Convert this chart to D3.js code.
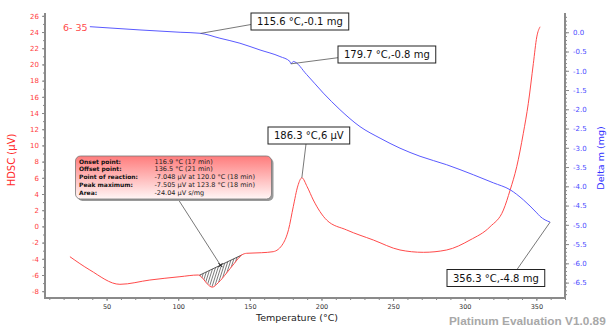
<!DOCTYPE html>
<html><head><meta charset="utf-8">
<script src="https://cdn.jsdelivr.net/npm/d3@7"></script>
<style>
body{margin:0;background:#fff}
svg{display:block}
text{font-family:"DejaVu Sans",sans-serif}
</style>
</head><body>
<svg width="610" height="327"></svg>
<script>
// DSC signal, left axis (µV)
const dscTemp = [24.4, 38.3, 59.3, 80.2, 101.2, 114.0, 118.0, 120.0, 123.8, 128.0, 133.8, 139.0, 144.3, 147.8, 158.0, 166.3, 173.3, 177.0, 180.3, 183.5, 186.3, 190.0, 194.3, 203.6, 217.6, 236.2, 254.8, 271.1, 287.4, 303.7, 317.7, 327.0, 331.7, 336.3, 340.9, 344.4, 347.9, 350.3, 352.6];
const dscVal  = [-3.74, -5.38, -7.15, -6.62, -6.21, -6.0, -6.6, -7.05, -7.5, -6.95, -5.75, -4.6, -3.53, -3.32, -3.25, -3.12, -2.09, -0.4, 2.43, 5.0, 6.0, 4.9, 3.26, 0.79, -0.44, -1.68, -2.91, -3.2, -2.91, -1.68, -0.04, 2.02, 4.49, 7.37, 11.5, 15.2, 20.1, 23.4, 24.65];

// mass change, right axis (mg)
const tgTemp = [38.3, 73.3, 101.3, 115.2, 129.1, 143.1, 157.1, 171.0, 178.0, 178.7, 180.3, 189.7, 201.3, 212.9, 226.9, 240.9, 254.8, 268.8, 287.4, 306.0, 320.0, 331.7, 340.9, 350.3, 352.6, 359.6];
const tgVal  = [0.145, 0.06, 0.0, -0.026, -0.155, -0.285, -0.46, -0.63, -0.76, -0.82, -0.76, -1.1, -1.58, -2.01, -2.45, -2.75, -3.01, -3.22, -3.44, -3.7, -3.91, -4.09, -4.35, -4.69, -4.78, -4.93];

// ticks
const xTicks = [50, 100, 150, 200, 250, 300, 350];
const dscTicks = [-8, -6, -4, -2, 0, 2, 4, 6, 8, 10, 12, 14, 16, 18, 20, 22, 24, 26];
const tgTicks = [0.0, -0.5, -1.0, -1.5, -2.0, -2.5, -3.0, -3.5, -4.0, -4.5, -5.0, -5.5, -6.0, -6.5];

// peak evaluation (baseline ends + text)
const baseTemp = [114.6, 144.3];
const baseVal = [-6.05, -3.53];
const reactionTemp = 129.5;
const peakLabels = ["Onset point:", "Offset point:", "Point of reaction:", "Peak maximum:", "Area:"];
const peakValues = ["116.9 °C (17 min)", "136.5 °C (21 min)", "-7.048 µV at 120.0 °C (18 min)", "-7.505 µV at 123.8 °C (18 min)", "-24.04 µV s/mg"];

// point labels
const markText = ["115.6 °C,-0.1 mg", "179.7 °C,-0.8 mg", "186.3 °C,6 µV", "356.3 °C,-4.8 mg"];
const markTemp = [115.6, 178.7, 186.3, 359.6];
const markSeries = ["tg", "tg", "dsc", "tg"];

const svg = d3.select("svg");
const L = 45, R = 565, T = 13, B = 298;

const x = d3.scaleLinear().domain([7, 370]).range([L, R]);
const yL = d3.scaleLinear().domain([-8.84, 26.35]).range([B, T]);
const yR = d3.scaleLinear().domain([-6.9, 0.5]).range([B, T]);

function interp(xs, ys, t) {
  const i = Math.max(1, Math.min(xs.length - 1, d3.bisectLeft(xs, t)));
  const f = (t - xs[i - 1]) / (xs[i] - xs[i - 1]);
  return ys[i - 1] + f * (ys[i] - ys[i - 1]);
}

// axes
const gx = svg.append("g").attr("transform", `translate(0,${B})`);
gx.call(d3.axisBottom(x).tickValues(d3.range(10, 371, 10)).tickSize(2).tickFormat(""));
gx.append("g").call(d3.axisBottom(x).tickValues(xTicks).tickSize(3).tickPadding(3).tickFormat(d => d));
gx.selectAll("text").attr("fill", "#333").attr("font-size", 6.5);

const gl = svg.append("g").attr("transform", `translate(${L},0)`);
gl.call(d3.axisLeft(yL).tickValues(d3.range(-8, 27, 1)).tickSize(2).tickFormat(""));
gl.append("g").call(d3.axisLeft(yL).tickValues(dscTicks).tickSize(3).tickPadding(3).tickFormat(d => String(d)));
gl.selectAll("text").attr("fill", "#ff3c3c").attr("font-size", 7);

const gr = svg.append("g").attr("transform", `translate(${R},0)`);
gr.call(d3.axisRight(yR).tickValues(d3.range(-68, 5, 1).map(d => d / 10)).tickSize(2).tickFormat(""));
gr.append("g").call(d3.axisRight(yR).tickValues(tgTicks).tickSize(4).tickPadding(4).tickFormat(d => d.toFixed(1)));
gr.selectAll("text").attr("fill", "#4a4aff").attr("font-size", 7);

svg.selectAll(".domain").remove();
svg.selectAll(".tick line").attr("stroke", "#888");
svg.append("path").attr("d", `M${L},${T}V${B}H${R}V${T}`).attr("fill", "none").attr("stroke", "#8a8a8a").attr("stroke-width", 2);

// axis titles
svg.append("text").attr("transform", `translate(15,160) rotate(-90)`).attr("text-anchor", "middle")
  .attr("fill", "#ff2a2a").attr("font-size", 10).text("HDSC (µV)");
svg.append("text").attr("transform", `translate(604,158) rotate(-90)`).attr("text-anchor", "middle")
  .attr("fill", "#3030ff").attr("font-size", 9.5).text("Delta m (mg)");
svg.append("text").attr("x", 297).attr("y", 321).attr("text-anchor", "middle")
  .attr("fill", "#222").attr("font-size", 9.5).text("Temperature (°C)");
svg.append("text").attr("x", 449).attr("y", 325).attr("fill", "#a8a8a8")
  .style("font-family", "'Liberation Sans', Arial, sans-serif").attr("font-weight", "bold").attr("font-size", 11.8)
  .text("Platinum Evaluation V1.0.89");

// hatched peak area
const clipPts = d3.range(baseTemp[0], baseTemp[1] + 0.01, 0.5).map(t => [x(t), yL(interp(dscTemp, dscVal, t))]);
clipPts.push([x(baseTemp[1]), yL(baseVal[1])], [x(baseTemp[0]), yL(baseVal[0])]);
svg.append("clipPath").attr("id", "peak").append("path").attr("d", "M" + clipPts.join("L") + "Z");
const hatch = svg.append("g").attr("clip-path", "url(#peak)");
d3.range(x(baseTemp[0]) - 20, x(baseTemp[1]) + 5, 2.6).forEach(px => {
  hatch.append("line").attr("x1", px).attr("y1", 292).attr("x2", px + 14).attr("y2", 248)
    .attr("stroke", "#222").attr("stroke-width", 0.6);
});
svg.append("line").attr("x1", x(baseTemp[0])).attr("y1", yL(baseVal[0]))
  .attr("x2", x(baseTemp[1])).attr("y2", yL(baseVal[1])).attr("stroke", "#333").attr("stroke-width", 0.8);

// curves
const dscLine = d3.line().x(d => x(d[0])).y(d => yL(d[1])).curve(d3.curveMonotoneX);
const tgLine = d3.line().x(d => x(d[0])).y(d => yR(d[1])).curve(d3.curveMonotoneX);
svg.append("path").attr("d", dscLine(d3.zip(dscTemp, dscVal))).attr("fill", "none").attr("stroke", "#ff4a4a").attr("stroke-width", 1);
svg.append("path").attr("d", tgLine(d3.zip(tgTemp, tgVal))).attr("fill", "none").attr("stroke", "#5a5aff").attr("stroke-width", 1);

svg.append("text").attr("x", 63).attr("y", 31).attr("fill", "#ff4a4a").attr("font-size", 9.5).text("6- 35");

// reaction point marker + peak evaluation box
const rx = x(reactionTemp), ry = yL(interp(baseTemp, baseVal, reactionTemp));
svg.append("line").attr("x1", 178).attr("y1", 199).attr("x2", rx).attr("y2", ry).attr("stroke", "#555").attr("stroke-width", 0.8);
svg.append("path").attr("d", `M${rx - 2},${ry - 2}L${rx + 2},${ry + 2}M${rx - 2},${ry + 2}L${rx + 2},${ry - 2}`).attr("stroke", "#111");

const grad = svg.append("defs").append("linearGradient").attr("id", "boxfill").attr("x1", 0).attr("y1", 0).attr("x2", 0).attr("y2", 1);
grad.append("stop").attr("offset", "0%").attr("stop-color", "#ff7c7c");
grad.append("stop").attr("offset", "100%").attr("stop-color", "#fff6f6");
svg.append("rect").attr("x", 77.5).attr("y", 158).attr("width", 196).attr("height", 43).attr("rx", 5).attr("fill", "#9a9a9a");
svg.append("rect").attr("x", 75.5).attr("y", 156).attr("width", 196).attr("height", 43).attr("rx", 5)
  .attr("fill", "url(#boxfill)").attr("stroke", "#777").attr("stroke-width", 0.8);
peakLabels.forEach((t, i) => {
  svg.append("text").attr("x", 79).attr("y", 163.5 + i * 7.8).attr("font-size", 6).attr("font-weight", "bold").attr("fill", "#111").text(t);
  svg.append("text").attr("x", 154.5).attr("y", 163.5 + i * 7.8).attr("font-size", 6.5).attr("fill", "#222").text(peakValues[i]);
});

// point labels: box position and leader attach point
const markBox = [[251, 13], [338, 46], [268, 127], [447, 269.5]];
const markAttach = [[0, 11.5], [0, 11.7], [38, 17], [70, 0]];
markText.forEach((t, i) => {
  const ax = x(markTemp[i]);
  const ay = markSeries[i] === "tg" ? yR(interp(tgTemp, tgVal, markTemp[i])) : yL(interp(dscTemp, dscVal, markTemp[i]));
  const [bx, by] = markBox[i];
  svg.append("line").attr("x1", ax).attr("y1", ay).attr("x2", bx + markAttach[i][0]).attr("y2", by + markAttach[i][1])
    .attr("stroke", "#555").attr("stroke-width", 0.8);
  const g = svg.append("g");
  const rect = g.append("rect").attr("x", bx).attr("y", by).attr("height", 17).attr("fill", "#fff").attr("stroke", "#222").attr("stroke-width", 1);
  const txt = g.append("text").attr("x", bx + 6).attr("y", by + 12.3).attr("font-size", 10).attr("fill", "#111").text(t);
  rect.attr("width", txt.node().getComputedTextLength() + 12);
});
</script>
</body></html>
